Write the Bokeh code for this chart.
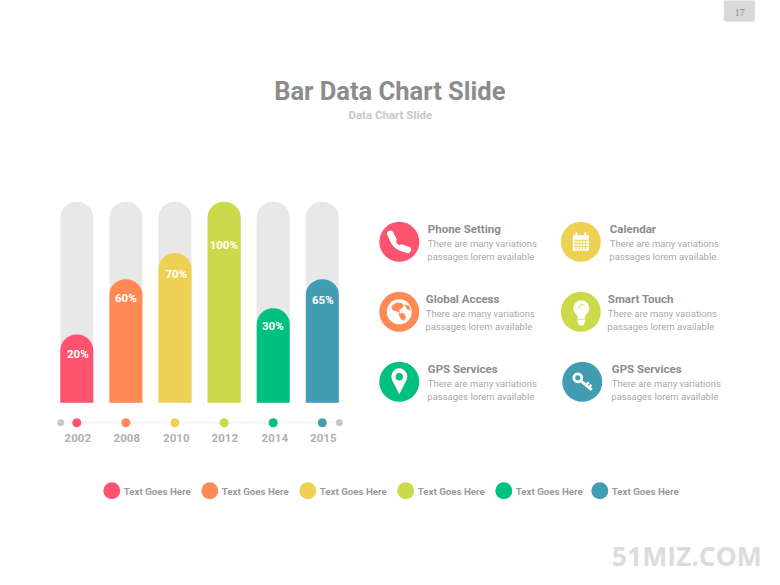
from bokeh.plotting import figure
from bokeh.models import Range1d
from bokeh.core.properties import value
from bokeh.embed import file_html
from bokeh.resources import INLINE

# ---------- data ----------
years = ["2002", "2008", "2010", "2012", "2014", "2015"]
bar_heights = [34, 61.5, 74.5, 100, 47, 61.5]
bar_labels = ["20%", "60%", "70%", "100%", "30%", "65%"]
track_heights = [100, 100, 100, 100, 100, 100]
colors = ["#ff5470", "#ff8a56", "#eed055", "#ccd94a", "#00c07f", "#429db3"]
legend_labels = ["Text Goes Here"] * 6
info_titles = ["Phone Setting", "Global Access", "GPS Services", "Calendar", "Smart Touch", "GPS Services"]
info_line1 = ["There are many variations"] * 6
info_line2 = ["passages lorem available"] * 6
info_colors = ["#ff5470", "#ff8a56", "#00c07f", "#eed055", "#ccd94a", "#429db3"]

# ---------- layout (page pixels) ----------
W, H, M = 780, 585, 0.7
BASE_PX, TOP_PX = 403.0, 202.0
CAT0_PX, CAT_STEP = 77.0, 49.1
BAR_W = 33.0 / CAT_STEP
label_px_y = [354, 298.5, 274, 245, 326, 300]
label_px_x = [78, 126, 176.5, 224, 273, 323]
year_px_x = [78, 127, 176.5, 225, 275, 323.5]
legend_dot_x = [112, 210, 308, 406, 504, 600]
legend_text_x = [124, 222, 320, 418, 516, 612]
icon_x = [399.5, 399.5, 399.5, 581, 581, 582.5]
icon_y = [242, 312, 382, 242, 312, 382]
title_x = [428, 426, 428, 610, 608, 612]
FONT = value("Roboto")

p = figure(width=W, height=H, output_backend="svg", toolbar_location=None,
           x_range=Range1d(M, M + W), y_range=Range1d(M + H, M),
           min_border=0, outline_line_color=None, background_fill_color="white",
           border_fill_color="white")
p.axis.visible = False
p.grid.visible = False

upx = (BASE_PX - TOP_PX) / 100.0
p.extra_y_ranges["pct"] = Range1d((BASE_PX - (M + H)) / upx, (BASE_PX - M) / upx)
p.extra_x_ranges["cat"] = Range1d((M - CAT0_PX) / CAT_STEP, (M + W - CAT0_PX) / CAT_STEP)


def txt(x, y, s, size, color, style="normal", font=FONT, align="left"):
    p.text([x], [y], text=[s], text_font=font, text_font_size=f"{size}px",
           text_font_style=style, text_color=color, text_align=align, text_baseline="middle")


def ln(xs, ys, w, color="white", cap="round"):
    p.line(xs, ys, line_width=w, line_color=color, line_cap=cap, line_join="round")


def poly(xs, ys, color="white"):
    p.patch(xs, ys, fill_color=color, line_color=color, line_width=0.5)


def disc(x, y, r, color="white"):
    p.circle([x], [y], radius=r, fill_color=color, line_color=None)


# page tab
p.quad(left=[724], right=[755], top=[0], bottom=[22], fill_color="#d9d9d9", line_color=None,
       border_radius=(0, 0, 3, 3))
txt(740, 13, "17", 10, "#8c8c8c", font=value("Liberation Serif"), align="center")

# titles
txt(390, 91, "Bar Data Chart Slide", 25.5, "#8c8c8c", "bold", align="center")
txt(390.5, 115, "Data Chart Slide", 11.5, "#c8c8c8", "bold", align="center")

# bars
idx = list(range(len(years)))
p.vbar(x=idx, width=BAR_W, bottom=0, top=track_heights, fill_color="#e8e8e8", line_color=None,
       x_range_name="cat", y_range_name="pct", border_radius=(16, 16, 0, 0))
p.vbar(x=idx, width=BAR_W, bottom=0, top=bar_heights, fill_color=colors, line_color=None,
       x_range_name="cat", y_range_name="pct", border_radius=(16, 16, 0, 0))
p.text(label_px_x, label_px_y, text=bar_labels, text_font=FONT, text_font_size="11.5px",
       text_font_style="bold", text_color="white", text_align="center", text_baseline="middle")

# year axis
AX_Y = 423
ln([61, 339.5], [AX_Y, AX_Y], 1, "#eeeeee")
p.scatter([61, 339.5], [AX_Y, AX_Y], size=7, fill_color="#c8c8c8", line_color=None)
p.scatter([CAT0_PX + CAT_STEP * i for i in idx], [AX_Y] * 6, size=9, fill_color=colors, line_color=None)
p.text(year_px_x, [438] * 6, text=years, text_font=FONT, text_font_size="11.5px",
       text_font_style="bold", text_color="#b0b0b0", text_align="center", text_baseline="middle")

# info blocks
for i in range(6):
    disc(icon_x[i], icon_y[i], 20, info_colors[i])
    txt(title_x[i], icon_y[i] - 13, info_titles[i], 11.5, "#8c8c8c", "bold")
    txt(title_x[i], icon_y[i] + 2, info_line1[i], 9.5, "#a8a8a8")
    txt(title_x[i] - 0.5, icon_y[i] + 15, info_line2[i], 9.5, "#a8a8a8")

# phone icon
t = [k / 16 for k in range(17)]
bez = lambda a, b, c, d: [(1-u)**3*a + 3*(1-u)**2*u*b + 3*(1-u)*u*u*c + u**3*d for u in t]
ln(bez(391.5, 392, 397, 405.5), bez(236, 243, 249, 249.5), 4.5)
ln([390.5, 393.5], [234, 240], 6.5)
ln([402, 408], [248, 250], 6.5)

# calendar icon
p.quad(left=[573], right=[589], top=[235.5], bottom=[251], fill_color="white", line_color=None)
for gx in [576.2, 579.4, 582.6, 585.8]:
    ln([gx, gx], [240, 250], 0.9, "#eed055", "butt")
for gy in [240.5, 243.6, 246.7]:
    ln([574, 588], [gy, gy], 0.9, "#eed055", "butt")
ln([576.5, 576.5], [233.5, 237], 2)
ln([585.5, 585.5], [233.5, 237], 2)

# globe icon
disc(399.5, 312, 12.5)
poly([392, 397, 402, 404, 401, 399, 400, 396, 392.5],
     [306, 303, 303.5, 306, 309, 310, 313, 311, 310], "#ff8a56")
poly([399, 404, 406, 404, 401], [314, 313.5, 317, 321, 319], "#ff8a56")
poly([405, 409, 410.5, 408], [305, 306, 310, 310], "#ff8a56")

# bulb icon
disc(581.5, 308.5, 8)
poly([576, 587, 585, 585, 578, 578], [311, 311, 317, 323, 323, 317])
disc(581.5, 323, 3)
ln([578.5, 581.5, 584.5], [309, 304, 306], 0.9, "#ccd94a")
ln([578, 585], [319.5, 319.5], 0.8, "#ccd94a", "butt")

# pin icon
disc(399.5, 376.5, 8)
poly([392.2, 406.8, 399.5], [379.5, 379.5, 394])
disc(399.5, 377, 3.7, "#00c07f")

# key icon
p.circle([578], [378], radius=4, fill_color=None, line_color="white", line_width=2.8)
ln([581, 592], [381, 390], 2.8, "white", "butt")
ln([586, 589], [385.5, 382.5], 2.2, "white", "butt")
ln([589, 591.5], [388, 385], 2.2, "white", "butt")

# legend
p.circle(legend_dot_x, [491] * 6, radius=8.5, fill_color=colors, line_color=None)
p.text(legend_text_x, [491.5] * 6, text=legend_labels, text_font=FONT, text_font_size="9.7px",
       text_font_style="bold", text_color="#9a9a9a", text_align="left", text_baseline="middle")

# watermark
txt(687, 556, "51MIZ.COM", 26.5, "#dcdcdc", "bold", font=value("Open Sans"), align="center")

open("out.html", "w").write(file_html(p, INLINE))
